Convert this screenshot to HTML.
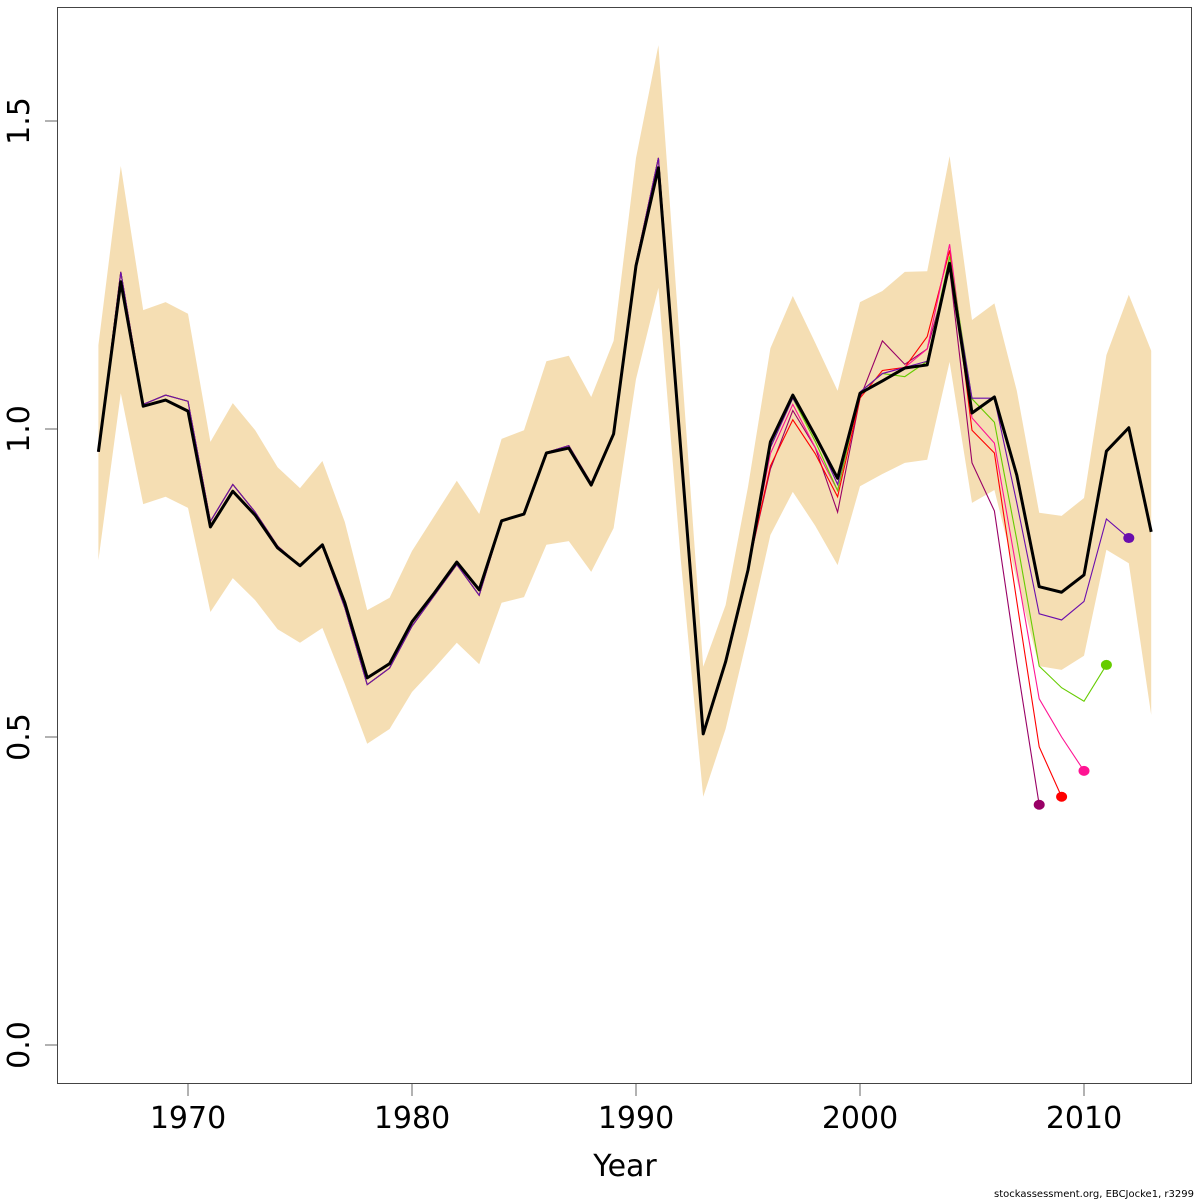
<!DOCTYPE html>
<html><head><meta charset="utf-8">
<style>
html,body{margin:0;padding:0;background:#fff;}
svg{display:block;font-family:"DejaVu Sans","Liberation Sans",sans-serif;}
</style></head>
<body>
<svg id="chart" width="1200" height="1200" viewBox="0 0 1200 1200" xmlns="http://www.w3.org/2000/svg">
<g id="band"></g>
<g id="lines"></g>
<g id="axes"></g>
<rect x="57.5" y="7.5" width="1134" height="1076" fill="none" stroke="#444" stroke-width="1"/>
<text x="625" y="1176" font-size="30" text-anchor="middle">Year</text>
<text x="1194" y="1197" font-size="10" text-anchor="end">stockassessment.org, EBCJocke1, r3299</text>
</svg>
<script>
const years = [1966,1967,1968,1969,1970,1971,1972,1973,1974,1975,1976,1977,1978,1979,1980,1981,1982,1983,1984,1985,1986,1987,1988,1989,1990,1991,1992,1993,1994,1995,1996,1997,1998,1999,2000,2001,2002,2003,2004,2005,2006,2007,2008,2009,2010,2011,2012,2013];
const estimate = [0.963,1.239,1.037,1.047,1.029,0.841,0.899,0.860,0.807,0.778,0.812,0.718,0.596,0.619,0.687,0.734,0.784,0.739,0.851,0.862,0.961,0.969,0.909,0.992,1.265,1.424,0.966,0.505,0.622,0.771,0.979,1.055,0.989,0.920,1.058,1.078,1.099,1.104,1.269,1.026,1.052,0.925,0.744,0.735,0.763,0.964,1.002,0.833];
const upper = [1.136,1.427,1.193,1.206,1.187,0.979,1.042,0.998,0.938,0.904,0.948,0.849,0.706,0.726,0.802,0.859,0.916,0.862,0.984,0.998,1.110,1.119,1.052,1.143,1.440,1.623,1.120,0.614,0.714,0.906,1.131,1.216,1.140,1.062,1.206,1.224,1.255,1.256,1.443,1.177,1.204,1.062,0.864,0.859,0.888,1.120,1.218,1.127];
const lower = [0.787,1.058,0.878,0.890,0.872,0.703,0.758,0.722,0.675,0.653,0.677,0.586,0.489,0.513,0.573,0.612,0.653,0.618,0.718,0.727,0.812,0.818,0.768,0.839,1.081,1.229,0.787,0.403,0.513,0.666,0.828,0.898,0.843,0.779,0.907,0.927,0.945,0.950,1.109,0.880,0.901,0.755,0.615,0.609,0.632,0.804,0.782,0.536];
const peelEarly = [0.963,1.255,1.040,1.055,1.045,0.850,0.910,0.865,0.810,0.778,0.810,0.710,0.585,0.612,0.680,0.730,0.780,0.730,0.850,0.862,0.962,0.973,0.912,0.992,1.270,1.440,0.970,0.505,0.625,0.775];
const peelPurple = [0.97,1.05,0.99,0.91,1.06,1.09,1.10,1.11,1.27,1.05,1.05,0.88,0.70,0.69,0.72,0.854,0.823];
const peelGreen = [0.97,1.05,0.98,0.90,1.06,1.09,1.085,1.11,1.28,1.049,1.011,0.82,0.615,0.58,0.558,0.617];
const peelPink = [0.96,1.04,0.97,0.90,1.06,1.09,1.10,1.13,1.30,1.018,0.977,0.77,0.562,0.50,0.445];
const peelRed = [0.94,1.015,0.96,0.89,1.05,1.095,1.10,1.15,1.29,0.998,0.961,0.72,0.484,0.403];
const peelMagenta = [0.935,1.03,0.97,0.865,1.05,1.143,1.105,1.13,1.26,0.945,0.867,0.62,0.39];
const xTicks = [1970,1980,1990,2000,2010];
const yTicks = [0,0.5,1,1.5];
const yTickLabels = ["0.0","0.5","1.0","1.5"];

const NS="http://www.w3.org/2000/svg";
const X = y => 188 + (y-1970)*22.4;
const Y = v => 1045 - v*616;
function mk(tag, attrs, parent){const e=document.createElementNS(NS,tag);for(const k in attrs)e.setAttribute(k,attrs[k]);parent.appendChild(e);return e;}

const band=document.getElementById('band');
let pts=years.map((y,i)=>X(y)+','+Y(upper[i]));
for(let i=years.length-1;i>=0;i--)pts.push(X(years[i])+','+Y(lower[i]));
const poly=mk('polygon',{points:pts.join(' '),fill:'#f5deb3',stroke:'none'},band);



const lines=document.getElementById('lines');
const peels=[
 {name:'peel-2008',vals:peelMagenta,color:'#990066'},
 {name:'peel-2009',vals:peelRed,color:'#ff0000'},
 {name:'peel-2010',vals:peelPink,color:'#ff1493'},
 {name:'peel-2011',vals:peelGreen,color:'#66cc00'},
 {name:'peel-2012',vals:peelPurple,color:'#6a0dad'}
];
peels.forEach(p=>{
  const v=peelEarly.concat(p.vals);
  const d=v.map((val,i)=>X(years[i])+','+Y(val)).join(' ');
  const pl=mk('polyline',{points:d,fill:'none',stroke:p.color,'stroke-width':1.1},lines);
  
  
  const li=v.length-1;
  const c=mk('ellipse',{cx:X(years[li]),cy:Y(v[li]),rx:5.5,ry:5,fill:p.color},lines);
  
  
});
const main=mk('polyline',{points:estimate.map((v,i)=>X(years[i])+','+Y(v)).join(' '),fill:'none',stroke:'#000','stroke-width':3,'stroke-linejoin':'round'},lines);



const axes=document.getElementById('axes');
xTicks.forEach(t=>{
  const l=mk('line',{x1:X(t),x2:X(t),y1:1084,y2:1096,stroke:'#666','stroke-width':1},axes);
  
  
  const tx=mk('text',{x:X(t),y:1128,'font-size':30,'text-anchor':'middle'},axes);
  tx.textContent=t;
  
  
});
yTicks.forEach((t,i)=>{
  const l=mk('line',{x1:45,x2:57.5,y1:Y(t),y2:Y(t),stroke:'#666','stroke-width':1},axes);
  
  
  const tx=mk('text',{x:0,y:0,'font-size':30,'text-anchor':'middle',transform:'translate(29,'+Y(t)+') rotate(-90)'},axes);
  tx.textContent=yTickLabels[i];
  
  
});
</script>
</body></html>
